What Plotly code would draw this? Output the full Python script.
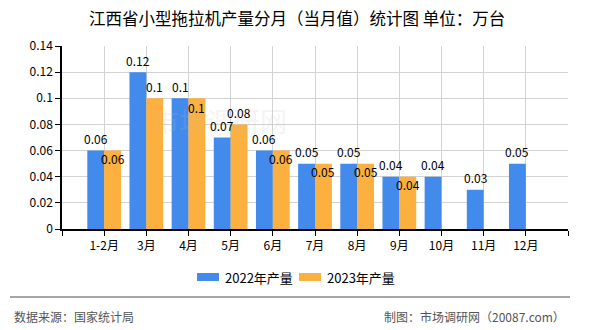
import plotly.graph_objects as go

# ---- data ----
categories = ["1-2月", "3月", "4月", "5月", "6月", "7月", "8月", "9月", "10月", "11月", "12月"]
prod_2022 = [0.06, 0.12, 0.10, 0.07, 0.06, 0.05, 0.05, 0.04, 0.04, 0.03, 0.05]
prod_2023 = [0.06, 0.10, 0.10, 0.08, 0.06, 0.05, 0.05, 0.04, None, None, None]
series_names = ["2022年产量", "2023年产量"]
y_ticks = [0, 0.02, 0.04, 0.06, 0.08, 0.10, 0.12, 0.14]
y_tick_text = ["0", "0.02", "0.04", "0.06", "0.08", "0.1", "0.12", "0.14"]

# ---- style ----
BLUE = "#428BEC"
ORANGE = "#FBB040"
FONT = "Noto Sans CJK SC"
W, H = 590, 330
L, R, T, B = 62, 22, 46, 101
label_shift_2022 = 12
label_shift_2023 = [-8, 12, -9, 12, -8, -8, -8, -8, 0, 0, 0]

def fmt(v):
    s = f"{v:.2f}".rstrip("0").rstrip(".")
    return s

x = list(range(len(categories)))
fig = go.Figure()
fig.add_trace(go.Bar(x=x, y=prod_2022, name=series_names[0], marker_color=BLUE,
                     marker_line_width=0, showlegend=False))
fig.add_trace(go.Bar(x=x, y=prod_2023, name=series_names[1], marker_color=ORANGE,
                     marker_line_width=0, showlegend=False))

pw = W - L - R
ph = H - T - B
def px(xp):
    return (xp - L) / pw
def py(yp):
    return (H - B - yp) / ph

ann = []
# watermark (behind everything, very faint)
ann.append(dict(x=px(219), y=py(120), xref="paper", yref="paper", text="市场调研网", showarrow=False,
                xanchor="center", yanchor="middle",
                font=dict(size=27, color="rgba(190,190,190,0.18)", family=FONT)))

for i, v in enumerate(prod_2022):
    if v is not None:
        ann.append(dict(x=i - 0.2, y=v, xref="x", yref="y", text=fmt(v), showarrow=False,
                        xanchor="center", yanchor="middle",
                        yshift=label_shift_2022, font=dict(size=12, color="#000", family=FONT)))
for i, v in enumerate(prod_2023):
    if v is not None:
        ann.append(dict(x=i + 0.2, y=v, xref="x", yref="y", text=fmt(v), showarrow=False,
                        xanchor="center", yanchor="middle",
                        yshift=label_shift_2023[i], font=dict(size=12, color="#000", family=FONT)))

# title
ann.append(dict(x=px(297), y=py(18), xref="paper", yref="paper", text="江西省小型拖拉机产量分月（当月值）统计图 单位：万台",
                showarrow=False, xanchor="center", yanchor="middle",
                font=dict(size=16.5, color="#000", family=FONT)))

# custom legend
shapes = []
legend_items = [(197, 223, BLUE, series_names[0]), (299, 325, ORANGE, series_names[1])]
for x0, tx, col, name in legend_items:
    shapes.append(dict(type="rect", xref="paper", yref="paper", x0=px(x0), x1=px(x0 + 22),
                       y0=py(281), y1=py(273), fillcolor=col, line_width=0))
    ann.append(dict(x=px(tx), y=py(277), xref="paper", yref="paper", text=name, showarrow=False,
                    xanchor="left", yanchor="middle", font=dict(size=13, color="#000", family=FONT)))

# footer
shapes.append(dict(type="line", xref="paper", yref="paper", x0=px(10), x1=px(570), y0=py(297), y1=py(297),
                   line=dict(color="#888", width=1.5)))
ann.append(dict(x=px(12), y=py(316), xref="paper", yref="paper", text="数据来源：国家统计局", showarrow=False,
                xanchor="left", yanchor="middle", font=dict(size=12, color="#555", family=FONT)))
ann.append(dict(x=px(567), y=py(316), xref="paper", yref="paper", text="制图：市场调研网（20087.com）", showarrow=False,
                xanchor="right", yanchor="middle", font=dict(size=12, color="#555", family=FONT)))

xtickvals = [-1] + x + [len(categories)]
xticktext = [""] + categories + [""]

fig.update_layout(
    width=W, height=H,
    margin=dict(l=L, r=R, t=T, b=B),
    paper_bgcolor="white", plot_bgcolor="white",
    barmode="group", bargap=0.2, bargroupgap=0,
    font=dict(family=FONT, size=12, color="#000"),
    annotations=ann, shapes=shapes,
    xaxis=dict(range=[-1, len(categories)], tickmode="array", tickvals=xtickvals, ticktext=xticktext,
               showgrid=True, gridcolor="#d3d3d3", gridwidth=1,
               showline=True, linecolor="#000", linewidth=1.5,
               ticks="outside", ticklen=5, tickcolor="#000",
               tickfont=dict(size=12, family=FONT, color="#000"), zeroline=False),
    yaxis=dict(range=[0, 0.14], tickmode="array", tickvals=y_ticks, ticktext=y_tick_text,
               showgrid=True, gridcolor="#d3d3d3", gridwidth=1,
               showline=True, linecolor="#000", linewidth=1.5,
               ticks="outside", ticklen=5, tickcolor="#000",
               tickfont=dict(size=12, family=FONT, color="#000"), zeroline=False),
)

fig.write_html("out.html")
